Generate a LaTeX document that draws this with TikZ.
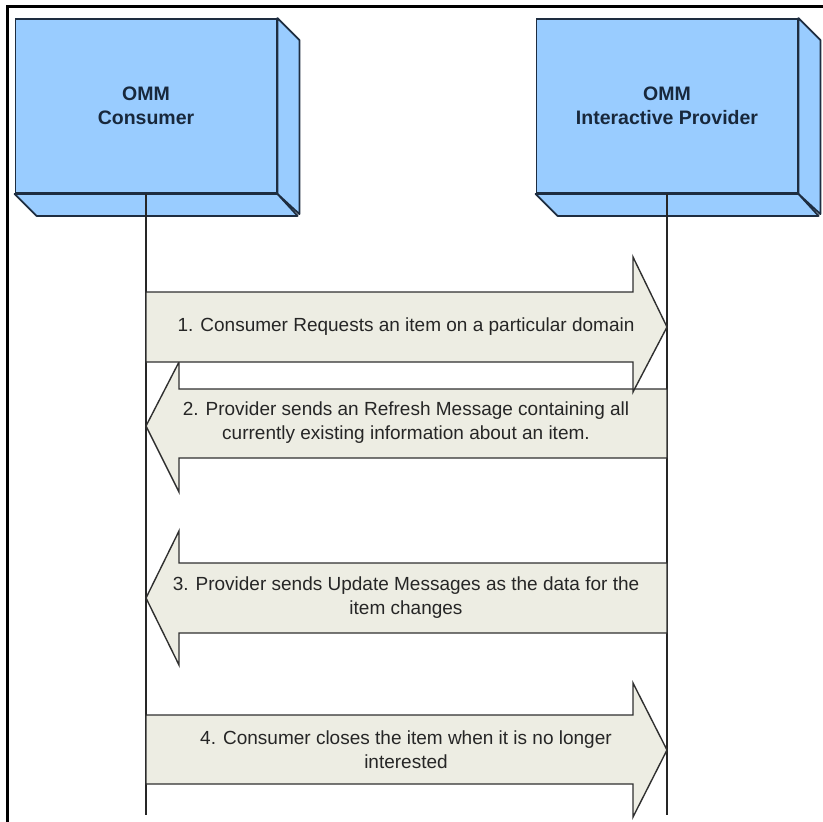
\documentclass[tikz,border=0pt]{standalone}
\usepackage{fontspec}
\setmainfont{Liberation Sans}
\definecolor{boxblue}{HTML}{99CCFF}
\definecolor{boxedge}{HTML}{1E2D40}
\definecolor{arrowfill}{HTML}{EDEDE3}
\definecolor{arrowedge}{HTML}{303030}
\definecolor{msgtext}{HTML}{262626}
\definecolor{boxtext}{HTML}{18283C}
\begin{document}
\begin{tikzpicture}[x=1pt,y=-1pt,
  boxfront/.style={draw=boxedge, fill=boxblue, line width=1.8pt, minimum width=261pt, minimum height=174pt, inner sep=0pt, align=center, text=boxtext, font=\bfseries\fontsize{19.5}{24}\selectfont},
  boxside/.style={draw=boxedge, fill=boxblue, line width=1.8pt, line join=round},
  lifeline/.style={draw=black!85, line width=1.3pt},
  blockarrow/.style={draw=arrowedge, fill=arrowfill, line width=1.4pt, line join=miter},
  msg/.style={align=center, text=msgtext, font=\fontsize{19}{24}\selectfont, inner sep=0pt},
  frameline/.style={line width=3pt, draw=black}]
\useasboundingbox (0,0) rectangle (823,822);
\fill[white] (0,0) rectangle (823,822);

% actor boxes
\node[boxfront] (cons) at (146,106) {OMM\\Consumer};
\draw[boxside] (cons.north east) -- ++(22,22) -- ++(0,174) -- (cons.south east) -- cycle;
\draw[boxside] (cons.south west) -- ++(22,22) -- ++(261,0) -- (cons.south east) -- cycle;

\node[boxfront] (prov) at (667,106) {OMM\\Interactive Provider};
\draw[boxside] (prov.north east) -- ++(22,22) -- ++(0,174) -- (prov.south east) -- cycle;
\draw[boxside] (prov.south west) -- ++(22,22) -- ++(261,0) -- (prov.south east) -- cycle;

% lifelines
\coordinate (consEnd) at (146,815);
\coordinate (provEnd) at (667,815);
\draw[lifeline] (cons.south) -- (consEnd);
\draw[lifeline] (prov.south) -- (provEnd);

% block arrows
\draw[blockarrow] (667,389) -- (179,389) -- (179,362) -- (146,426) -- (179,492) -- (179,458) -- (667,458) -- cycle;
\draw[blockarrow] (146,292) -- (633,292) -- (633,257) -- (667,327) -- (633,392) -- (633,362) -- (146,362) -- cycle;
\draw[blockarrow] (667,563) -- (179,563) -- (179,531) -- (146,598) -- (179,665) -- (179,633) -- (667,633) -- cycle;
\draw[blockarrow] (146,715) -- (633,715) -- (633,683) -- (667,750) -- (633,817) -- (633,784) -- (146,784) -- cycle;

% messages
\node[msg] (m1) at (406,327) {1. Consumer Requests an item on a particular domain};
\node[msg] (m2) at (406,423) {2. Provider sends an Refresh Message containing all\\currently existing information about an item.};
\node[msg] (m3) at (406,598) {3. Provider sends Update Messages as the data for the\\item changes};
\node[msg] (m4) at (406,750) {4. Consumer closes the item when it is no longer\\interested};

% frame
\draw[frameline] (823,6.5) -- (7.5,6.5) -- (7.5,822);
\end{tikzpicture}
\end{document}
